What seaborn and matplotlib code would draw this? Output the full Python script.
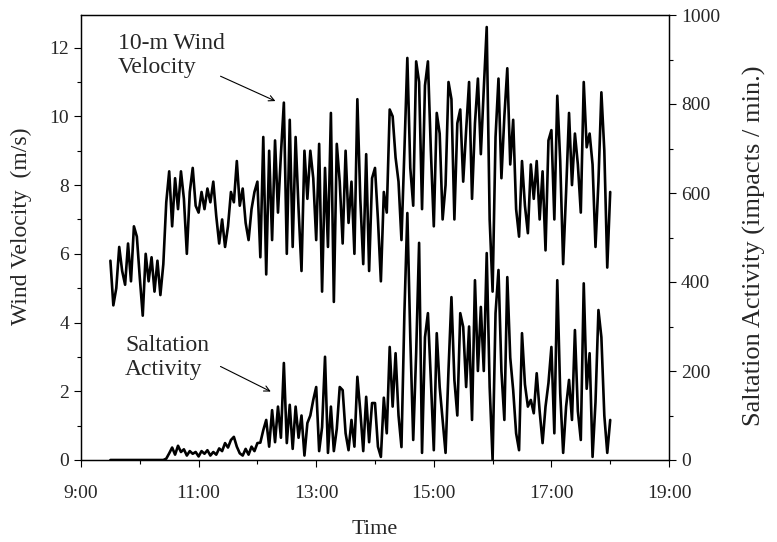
import numpy as np
import pandas as pd
import seaborn as sns
import matplotlib.pyplot as plt
import matplotlib.dates as mdates

# 3-minute samples from 9:30 to 18:00
start_time = "2000-01-01 09:30"
end_time = "2000-01-01 18:00"

# 10-m wind velocity (m/s), one row per half hour
wind = [
    5.8, 4.5, 5.0, 6.2, 5.5, 5.1, 6.3, 5.2, 6.8, 6.5,     # 9:30
    5.3, 4.2, 6.0, 5.2, 5.9, 4.9, 5.8, 4.8, 5.7, 7.5,     # 10:00
    8.4, 6.8, 8.2, 7.3, 8.4, 7.6, 6.0, 7.8, 8.5, 7.4,     # 10:30
    7.2, 7.8, 7.3, 7.9, 7.5, 8.1, 7.1, 6.3, 7.0, 6.2,     # 11:00
    6.8, 7.8, 7.5, 8.7, 7.4, 7.9, 6.9, 6.4, 7.3, 7.8,     # 11:30
    8.1, 5.9, 9.4, 5.4, 9.0, 6.4, 9.3, 7.2, 8.9, 10.4,    # 12:00
    6.0, 9.9, 6.2, 9.4, 7.3, 5.5, 9.0, 7.6, 9.0, 8.2,     # 12:30
    6.4, 9.2, 4.9, 8.5, 6.2, 10.1, 4.6, 9.2, 8.1, 6.3,    # 13:00
    9.0, 6.9, 8.1, 6.0, 10.5, 7.6, 5.7, 8.9, 5.5, 8.2,    # 13:30
    8.5, 7.0, 5.2, 7.8, 7.2, 10.2, 10.0, 8.8, 8.1, 6.4,   # 14:00
    9.0, 11.7, 8.5, 7.4, 11.6, 11.0, 7.3, 10.9, 11.6, 9.0,  # 14:30
    6.8, 10.1, 9.5, 7.0, 8.0, 11.0, 10.5, 7.0, 9.8, 10.2,   # 15:00
    8.1, 9.6, 11.0, 7.6, 9.8, 11.1, 8.9, 10.8, 12.6, 7.0,   # 15:30
    4.9, 9.4, 11.1, 8.2, 10.0, 11.4, 8.6, 9.9, 7.3, 6.5,    # 16:00
    8.7, 7.4, 6.6, 8.6, 7.6, 8.7, 7.0, 8.4, 6.1, 9.3,       # 16:30
    9.6, 7.0, 10.6, 8.7, 5.7, 7.8, 10.1, 8.0, 9.5, 8.6,     # 17:00
    7.2, 11.0, 9.1, 9.5, 8.6, 6.2, 8.1, 10.7, 9.0, 5.6,     # 17:30
    7.8,                                                    # 18:00
]

# saltation activity (impacts / min.)
saltation = [
    0, 0, 0, 0, 0, 0, 0, 0, 0, 0,
    0, 0, 0, 0, 0, 0, 0, 0, 0, 3,
    15, 28, 12, 32, 18, 24, 10, 20, 14, 18,
    8, 20, 14, 22, 10, 18, 12, 26, 20, 38,
    28, 45, 52, 30, 15, 10, 25, 12, 30, 20,
    38, 39, 67, 90, 30, 112, 40, 120, 50, 218,
    38, 124, 25, 120, 50, 100, 10, 83, 100, 135,
    164, 20, 74, 232, 16, 120, 20, 70, 164, 157,
    60, 22, 90, 30, 187, 110, 20, 142, 40, 128,
    128, 30, 7, 140, 60, 254, 120, 240, 100, 29,
    330, 555, 276, 45, 240, 488, 16, 276, 330, 180,
    22, 285, 164, 90, 16, 202, 366, 180, 100, 330,
    299, 164, 300, 90, 404, 200, 344, 200, 465, 164,
    0, 330, 427, 200, 90, 411, 230, 157, 60, 22,
    285, 170, 120, 135, 105, 195, 110, 38, 120, 173,
    254, 60, 404, 150, 16, 120, 180, 90, 292, 110,
    45, 397, 160, 240, 7, 130, 337, 276, 100, 16,
    90,
]

times = pd.date_range(start_time, end_time, freq="3min")
df = pd.DataFrame({"time": times, "wind": wind, "saltation": saltation})

sns.set_style("ticks")
plt.rcParams["font.family"] = ["Liberation Serif", "DejaVu Serif"]

fig = plt.figure(figsize=(7.77, 5.42), dpi=100)
ax = fig.add_axes([81 / 777, 1 - 460 / 542, 588 / 777, 445 / 542])
ax2 = ax.twinx()

sns.lineplot(data=df, x="time", y="wind", ax=ax, color="black", lw=1.9)
sns.lineplot(data=df, x="time", y="saltation", ax=ax2, color="black", lw=1.9)

ax.set_xlim(pd.Timestamp("2000-01-01 09:00"), pd.Timestamp("2000-01-01 19:00"))
ax.set_ylim(0, 12.95)
ax2.set_ylim(0, 1000)

ax.xaxis.set_major_locator(mdates.HourLocator(byhour=range(9, 20, 2)))
ax.xaxis.set_minor_locator(mdates.HourLocator())
ax.xaxis.set_major_formatter(mdates.DateFormatter("%-H:%M"))
ax.set_yticks(range(0, 13, 2))
ax.set_yticks(range(1, 13, 2), minor=True)
ax2.set_yticks(range(0, 1001, 200))
ax2.set_yticks(range(100, 1000, 200), minor=True)

for a in (ax, ax2):
    a.tick_params(which="major", length=5, width=0.8, labelsize=14, color="black")
    a.tick_params(which="minor", length=3, width=0.8, color="black")
    for s in a.spines.values():
        s.set_visible(True)
        s.set_linewidth(0.9)
        s.set_color("black")
ax.tick_params(axis="x", which="major", pad=13)

ax.set_xlabel("Time", fontsize=16, va="center")
ax.xaxis.set_label_coords(0.5, -0.157)
ax.set_ylabel("Wind Velocity  (m/s)", fontsize=17, va="center")
ax.yaxis.set_label_coords(-0.102, 0.526)
ax2.set_ylabel("Saltation Activity (impacts / min.)", fontsize=19, va="center")
ax2.yaxis.set_label_coords(1.146, 0.481)

ax.text(0.063, 0.960, "10-m Wind\nVelocity", transform=ax.transAxes,
        fontsize=17, ha="left", va="top", linespacing=1.2)
ax.annotate("", xy=(0.335, 0.804), xytext=(0.233, 0.865),
            xycoords="axes fraction", textcoords="axes fraction",
            arrowprops=dict(arrowstyle="->", lw=0.8, color="black"))
ax.text(0.075, 0.281, "Saltation\nActivity", transform=ax.transAxes,
        fontsize=17, ha="left", va="top", linespacing=1.2)
ax.annotate("", xy=(0.327, 0.151), xytext=(0.233, 0.213),
            xycoords="axes fraction", textcoords="axes fraction",
            arrowprops=dict(arrowstyle="->", lw=0.8, color="black"))

fig.savefig("out.png", dpi=100)
